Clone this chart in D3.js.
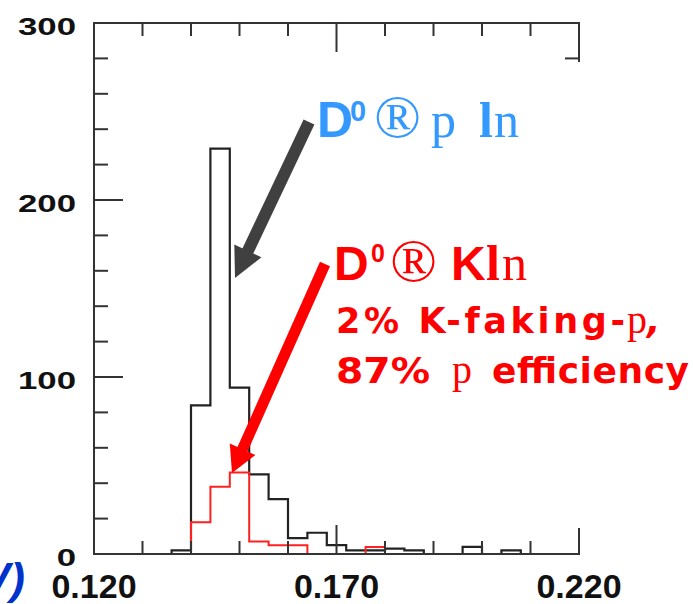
<!DOCTYPE html>
<html>
<head>
<meta charset="utf-8">
<script src="https://cdn.jsdelivr.net/npm/d3@7"></script>
<style>
  html, body { margin: 0; padding: 0; background: #fff; }
  svg { display: block; }
</style>
</head>
<body>
<svg id="chart" width="693" height="604"></svg>
<script>
// ---- data ----
const binLeft  = [0.136, 0.140, 0.144, 0.148, 0.152, 0.156, 0.160, 0.164, 0.168, 0.172,
                  0.176, 0.180, 0.184, 0.188, 0.192, 0.196, 0.200, 0.204, 0.208];
const binWidth = 0.004;
const allCounts = [2, 84, 229, 94, 45, 31, 9, 12, 5, 2, 2, 3, 2, 0, 0, 4, 0, 2, 0];
const kaonCounts = [0, 18, 38, 46, 7, 5, 5, 0, 0, 0, 4, 0, 0, 0, 0, 0, 0, 0, 0];
const xTickValues = [0.120, 0.170, 0.220];
const xTickLabels = ["0.120", "0.170", "0.220"];
const yTickValues = [0, 100, 200, 300];
const yTickLabels = ["0", "100", "200", "300"];

// ---- layout ----
const L = 94, R = 579, T = 23, B = 554;
const svg = d3.select("#chart");
const x = d3.scaleLinear().domain([0.12, 0.22]).range([L, R]);
const y = d3.scaleLinear().domain([0, 300]).range([B, T]);

function stepPoints(counts) {
  const pts = [[binLeft[0], 0]];
  counts.forEach((c, i) => pts.push([binLeft[i], c]));
  const last = binLeft[binLeft.length - 1] + binWidth;
  pts.push([last, counts[counts.length - 1]]);
  pts.push([last, 0]);
  return pts;
}
const line = d3.line().x(d => x(d[0])).y(d => y(d[1])).curve(d3.curveStepAfter);

svg.append("path").attr("d", line(stepPoints(allCounts)))
  .attr("fill", "none").attr("stroke", "#222").attr("stroke-width", 2.2);
svg.append("path").attr("d", line(stepPoints(kaonCounts)))
  .attr("fill", "none").attr("stroke", "#ff2020").attr("stroke-width", 2);

// ---- frame & ticks ----
const frameCol = "#333";
svg.append("rect").attr("x", L).attr("y", T).attr("width", R - L).attr("height", B - T)
  .attr("fill", "none").attr("stroke", frameCol).attr("stroke-width", 2);

const xt = x.ticks(10);
const g = svg.append("g").attr("stroke", frameCol).attr("stroke-width", 2);
xt.forEach(v => {
  const major = Math.abs(v - 0.17) < 1e-6;
  const len = major ? 29 : 13;
  g.append("line").attr("x1", x(v)).attr("x2", x(v)).attr("y1", B).attr("y2", B - len);
  g.append("line").attr("x1", x(v)).attr("x2", x(v)).attr("y1", T).attr("y2", T + len);
});
const yt = y.ticks(15);
yt.forEach(v => {
  const major = v % 100 === 0;
  const len = major ? 29 : 14;
  g.append("line").attr("y1", y(v)).attr("y2", y(v)).attr("x1", L).attr("x2", L + len);
  g.append("line").attr("y1", y(v)).attr("y2", y(v)).attr("x1", R).attr("x2", R - len);
});

// white box hiding right part of the frame
svg.append("rect").attr("x", 543).attr("y", 62).attr("width", 150).attr("height", 466).attr("fill", "#fff");

// ---- tick labels ----
xTickValues.forEach((v, i) => {
  svg.append("text").attr("x", x(v)).attr("y", 598)
    .attr("text-anchor", "middle")
    .attr("font-family", "Liberation Sans, Arial, sans-serif").attr("font-weight", "bold")
    .attr("font-size", 34).attr("fill", "#111").text(xTickLabels[i]);
});
yTickValues.forEach((v, i) => {
  svg.append("text")
    .attr("transform", `translate(76,${y(v) + 11.5}) scale(1.45,1)`)
    .attr("text-anchor", "end")
    .attr("font-family", "Liberation Sans, Arial, sans-serif").attr("font-weight", "bold")
    .attr("font-size", 24).attr("fill", "#111").text(yTickLabels[i]);
});

// ---- arrows ----
function arrow(x1, y1, x2, y2, w, headLen, headHalf, col) {
  const dx = x2 - x1, dy = y2 - y1, len = Math.hypot(dx, dy);
  const ux = dx / len, uy = dy / len, px = -uy, py = ux;
  const bx = x2 - ux * headLen, by = y2 - uy * headLen;
  svg.append("line").attr("x1", x1).attr("y1", y1).attr("x2", bx + ux * 2).attr("y2", by + uy * 2)
    .attr("stroke", col).attr("stroke-width", w);
  svg.append("path").attr("d",
    `M${x2},${y2}L${bx + px * headHalf},${by + py * headHalf}L${bx - px * headHalf},${by - py * headHalf}Z`)
    .attr("fill", col);
}
arrow(309, 122, 235, 278, 12, 30, 15, "#404040");
arrow(325, 264, 232, 473, 11, 26, 14, "#ff0000");

// ---- annotations ----
function piece(txt, px, py, size, family, weight, col, extra) {
  const t = svg.append("text").attr("x", px).attr("y", py)
    .attr("font-family", family).attr("font-weight", weight)
    .attr("font-size", size).attr("fill", col).text(txt);
  if (extra) extra(t);
  return t;
}
const SANS = "Liberation Sans, Arial, sans-serif";
const SERIF = "Liberation Serif, Times New Roman, serif";
const WIDE = "DejaVu Sans, Verdana, sans-serif";
const blue = "#3399ff", red = "#ff0000";

// blue: D0 -> pi l nu
piece("D", 317, 137, 50, SANS, "bold", blue);
piece("0", 350, 121, 29, SANS, "bold", blue);
piece("®", 374, 137, 62, SERIF, "normal", blue);
piece("p", 431, 137, 50, SERIF, "normal", blue);
piece("l", 479, 137, 50, SERIF, "bold", blue);
piece("n", 494, 137, 50, SERIF, "normal", blue);

// red: D0 -> K l nu
piece("D", 334, 280, 48, SANS, "bold", red);
piece("0", 371, 262, 25, SANS, "bold", red);
piece("®", 390, 281, 62, SERIF, "normal", red);
piece("K", 451, 280, 48, SANS, "bold", red);
piece("l", 486, 280, 50, SERIF, "bold", red);
piece("n", 502, 280, 50, SERIF, "normal", red);

piece("2% K-faking-", 336, 333, 35, WIDE, "bold", red, t => t.attr("textLength", 289).attr("lengthAdjust", "spacing"));
piece("p", 627, 333, 40, SERIF, "normal", red);
piece(",", 647, 333, 35, WIDE, "bold", red, t => t.attr("font-style", "italic"));
piece("87%", 336, 383, 36, WIDE, "bold", red, t => t.attr("textLength", 94).attr("lengthAdjust", "spacingAndGlyphs"));
piece("p", 452, 383, 40, SERIF, "normal", red);
piece("efficiency", 492, 383, 36, WIDE, "bold", red, t => t.attr("textLength", 197).attr("lengthAdjust", "spacing"));

// cut-off axis title fragment
svg.append("text").attr("x", 25).attr("y", 594).attr("text-anchor", "end")
  .attr("font-family", SANS).attr("font-weight", "bold").attr("font-style", "italic")
  .attr("font-size", 44).attr("fill", "#0033cc").text("(GeV)");
</script>
</body>
</html>
